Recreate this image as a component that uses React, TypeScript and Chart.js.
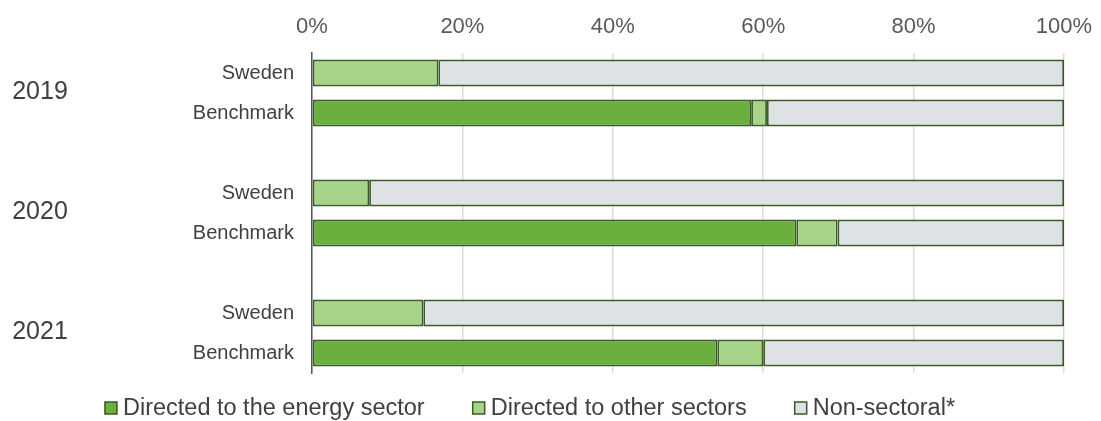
import React, { useEffect, useRef } from "react";
import { Chart, registerables } from "chart.js";

Chart.register(...registerables);

const rowLabels = ["Sweden", "Benchmark", "", "Sweden", "Benchmark", "", "Sweden", "Benchmark"];
const yearLabels = ["2019", "2020", "2021"];
const energySector = [null, 58.4, null, null, 64.4, null, null, 53.9];
const otherSectors = [16.8, 2.1, null, 7.6, 5.5, null, 14.8, 6.1];
const nonSectoral = [83.2, 39.5, null, 92.4, 30.1, null, 85.2, 40.0];
const xTicks = [0, 20, 40, 60, 80, 100];

const FONT = '"Liberation Sans", Arial, sans-serif';
const BORDER = "#3a5a26";

const yearPlugin = {
  id: "yearLabels",
  afterDraw(chart: any) {
    const { ctx, scales } = chart;
    const y = scales.y;
    ctx.save();
    ctx.font = `25px ${FONT}`;
    ctx.fillStyle = "#404040";
    ctx.textAlign = "center";
    ctx.textBaseline = "middle";
    yearLabels.forEach((yr, i) => {
      const a = y.getPixelForValue(i * 3);
      const b = y.getPixelForValue(i * 3 + 1);
      ctx.fillText(yr, 40, (a + b) / 2 - 1);
    });
    ctx.restore();
  },
};

const legendPlugin = {
  id: "customLegend",
  afterDraw(chart: any) {
    const { ctx } = chart;
    const datasets = chart.data.datasets;
    const box = 12;
    const gapText = 6;
    const gapItem = 48;
    ctx.save();
    ctx.font = `23.5px ${FONT}`;
    const widths = datasets.map((d: any) => box + gapText + ctx.measureText(d.label).width);
    const total = widths.reduce((a: number, b: number) => a + b, 0) + gapItem * (datasets.length - 1);
    let x = 530 - total / 2;
    const yc = 408;
    datasets.forEach((d: any, i: number) => {
      ctx.fillStyle = d.backgroundColor;
      ctx.fillRect(x, yc - box / 2, box, box);
      ctx.strokeStyle = BORDER;
      ctx.lineWidth = 1.5;
      ctx.strokeRect(x, yc - box / 2, box, box);
      ctx.fillStyle = "#404040";
      ctx.textAlign = "left";
      ctx.textBaseline = "middle";
      ctx.fillText(d.label, x + box + gapText, yc + 1);
      x += widths[i] + gapItem;
    });
    ctx.restore();
  },
};

export default function App() {
  const ref = useRef<HTMLCanvasElement>(null);
  useEffect(() => {
    if (!ref.current) return;
    const common = {
      borderColor: BORDER,
      borderWidth: 1.8,
      borderSkipped: false as const,
      categoryPercentage: 0.67,
      barPercentage: 1,
    };
    const chart = new Chart(ref.current, {
      type: "bar",
      data: {
        labels: rowLabels,
        datasets: [
          { label: "Directed to the energy sector", data: energySector, backgroundColor: "#6baf3e", ...common },
          { label: "Directed to other sectors", data: otherSectors, backgroundColor: "#a8d48a", ...common },
          { label: "Non-sectoral*", data: nonSectoral, backgroundColor: "#dfe2e5", ...common },
        ],
      },
      options: {
        indexAxis: "y",
        animation: false,
        responsive: true,
        maintainAspectRatio: false,
        layout: { padding: { left: 0, right: 37, top: 0, bottom: 48 } },
        plugins: {
          tooltip: { enabled: false },
          legend: { display: false },
        },
        scales: {
          x: {
            position: "top",
            stacked: true,
            min: 0,
            max: 100,
            afterBuildTicks: (s: any) => {
              s.ticks = xTicks.map((v) => ({ value: v }));
            },
            afterFit: (s: any) => {
              s.height = 53;
              s.paddingLeft = 0;
              s.paddingRight = 0;
            },
            ticks: {
              color: "#595959",
              padding: 13,
              font: { family: FONT, size: 22 },
              callback: (v: any) => `${v}%`,
            },
            grid: { color: "#dcdcdc", lineWidth: 1.5, drawTicks: false },
            border: { display: false },
          },
          y: {
            stacked: true,
            afterFit: (s: any) => {
              s.width = 312;
            },
            ticks: {
              color: "#404040",
              padding: 18,
              autoSkip: false,
              font: { family: FONT, size: 20 },
            },
            grid: { display: false, drawTicks: false },
            border: { display: true, color: "#595959", width: 1.5 },
          },
        },
      },
      plugins: [yearPlugin, legendPlugin],
    });
    return () => chart.destroy();
  }, []);
  return (
    <div style={{ position: "fixed", left: 0, top: 0, width: 1101, height: 421, background: "#fff" }}>
      <canvas ref={ref} />
    </div>
  );
}
